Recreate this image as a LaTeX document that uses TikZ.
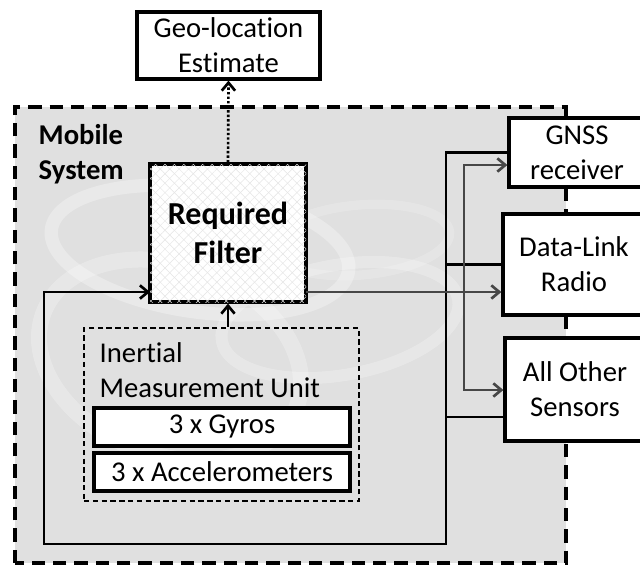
\documentclass[tikz,border=0pt]{standalone}
\usepackage{fontspec}
\setmainfont{Carlito}[Ligatures={NoCommon}]
\usetikzlibrary{arrows.meta,patterns.meta,calc}
\newcommand\mytxt{\fontsize{21.5}{26.2}\selectfont}
\newcommand\mybig{\fontsize{24}{29.5}\selectfont\bfseries}
\begin{document}
\begin{tikzpicture}[x=0.75pt,y=-0.75pt,
  box/.style={draw=black,line width=2.4pt,fill=white,align=center,font=\mytxt,inner sep=0pt},
  wire/.style={draw=black,line width=2pt},
  graywire/.style={draw=black!72,line width=2pt},
  tip/.style={-{Straight Barb[length=6pt,width=10pt,line width=2pt]}},
  hatch/.style={pattern={Lines[angle=#1,distance=5pt,line width=0.35pt]},pattern color=black!10}]
\useasboundingbox (0,0) rectangle (640,565);
\clip (0,0) rectangle (640,565);
% mobile system background
\fill[black!12] (15,107) rectangle (566,563);
\begin{scope}
  \clip (15,107) rectangle (566,563);
  \draw[white,opacity=0.3,line width=10pt,rotate around={-8:(200,250)}] (200,250) ellipse [x radius=150,y radius=62];
  \draw[white,opacity=0.25,line width=9pt,rotate around={10:(340,320)}] (340,320) ellipse [x radius=120,y radius=55];
  \draw[white,opacity=0.25,line width=12pt,rotate around={-20:(170,360)}] (170,360) ellipse [x radius=135,y radius=95];
  \draw[white,opacity=0.18,line width=7pt,rotate around={5:(360,240)}] (360,240) ellipse [x radius=90,y radius=35];
\end{scope}
\draw[line width=2.6pt,dash pattern=on 10pt off 6pt] (15,563) -- (15,107) -- (566,107) -- (566,563) -- cycle;
\node[font=\mytxt\bfseries,align=left,anchor=west] (mob) at (34,154.5) {Mobile\\System};
% nodes
\node[box,minimum width={183*0.75pt},minimum height={67*0.75pt}] (geo) at (228.5,45.5) {Geo-location\\Estimate};
\node[box,font=\mybig,minimum width={156*0.75pt},minimum height={138*0.75pt},
  postaction={hatch=45},postaction={hatch=-45}] (filter) at (228,233) {Required\\Filter};
\node[draw=black,line width=1.6pt,dash pattern=on 4pt off 2.6pt,minimum width={275*0.75pt},minimum height={173*0.75pt},inner sep=0pt] (imu) at (221.5,414.5) {};
\node[font=\mytxt,align=left,anchor=west] (imul) at (95,370) {Inertial\\Measurement Unit};
\node[box,minimum width={256*0.75pt},minimum height={38*0.75pt}] (gyro) at (222,427) {3 x Gyros};
\node[box,minimum width={256*0.75pt},minimum height={38*0.75pt}] (acc) at (222,472) {3 x Accelerometers};
\node[box,minimum width={136*0.75pt},minimum height={69*0.75pt}] (gnss) at (577,152.5) {GNSS\\receiver};
\node[box,minimum width={142*0.75pt},minimum height={101*0.75pt}] (dl) at (574,264.5) {Data-Link\\Radio};
\node[box,minimum width={140*0.75pt},minimum height={103*0.75pt}] (ao) at (575,389.5) {All Other\\Sensors};
% coordinates
\coordinate (fin) at (150,292);
\coordinate (fout) at (306,292);
\coordinate (bl) at (44,544);
\coordinate (br) at (446,544);
\coordinate (gtop) at (464,165);
\coordinate (gbot) at (464,390);
\coordinate (aoin) at ($(ao.west)+(0,27.5)$);
% connectors
\draw[line width=2pt,dash pattern=on 1.8pt off 1.6pt,tip] (filter.north) -- (geo.south);
\draw[wire,tip] (filter.south |- imu.north) -- (filter.south);
\draw[wire,tip] (gnss.west) -| (br) -- (bl) |- (fin);
\draw[wire] (dl.west) -- (dl.west -| br);
\draw[wire] (aoin) -- (aoin -| br);
\draw[graywire,tip] (fout) -- (fout -| dl.west);
\draw[graywire,tip] (gtop |- fout) -- (gtop) -- (gtop -| gnss.west);
\draw[graywire,tip] (gtop |- fout) -- (gbot) -- (gbot -| ao.west);
\end{tikzpicture}
\end{document}
